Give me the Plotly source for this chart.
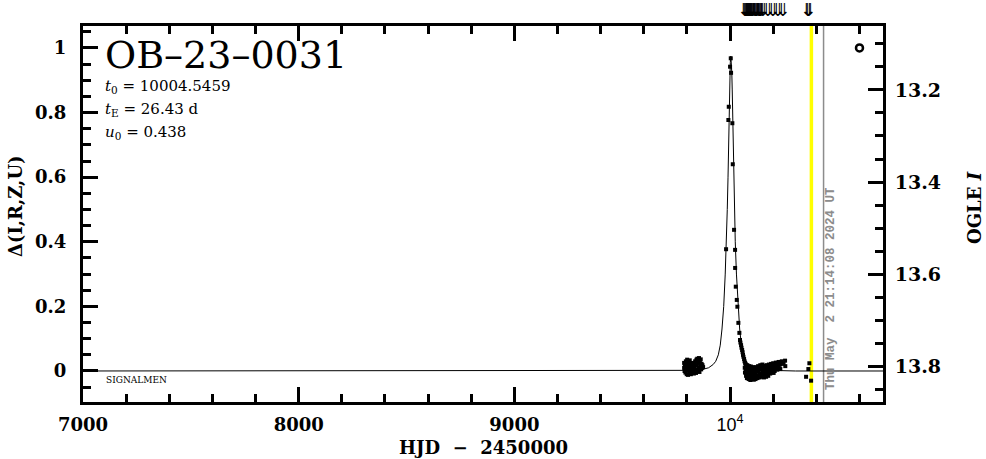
import plotly.graph_objects as go

# ---------------- data ----------------
# pre-event baseline (season before the event)
base_hjd = [9787, 9787, 9789, 9791, 9793, 9795, 9797, 9799, 9801, 9802, 9803, 9805, 9807, 9809,
            9811, 9813, 9815, 9816, 9818, 9820, 9822, 9824, 9826, 9828, 9830, 9832, 9834, 9836,
            9838, 9840, 9842, 9844, 9846, 9848, 9850, 9852, 9854, 9856, 9858, 9860, 9862, 9864,
            9866, 9868, 9870, 9872, 9875]
base_d = [0.025, 0.010, 0.000, 0.018, -0.005, 0.030, 0.012, -0.010, 0.035, 0.020, 0.003, -0.012,
          0.028, 0.010, -0.008, 0.033, 0.018, 0.000, -0.010, 0.022, 0.008, -0.005, 0.015, 0.025,
          0.000, -0.008, 0.012, 0.020, 0.030, 0.005, -0.006, 0.035, 0.018, 0.038, 0.002, 0.025,
          0.010, 0.040, -0.003, 0.030, 0.015, 0.036, 0.005, 0.022, 0.010, 0.018, 0.012]

# points on the peak
peak_hjd = [9981.5, 9992.1, 9993.9, 10000.0, 10003.2, 10004.6, 10010.6, 10012.5, 10018.5,
            10023.2, 10023.5, 10026.4, 10031.1, 10033.8, 10038.5, 10043.1]
peak_d = [0.377, 0.777, 0.818, 0.942, 0.968, 0.923, 0.767, 0.640, 0.437, 0.375, 0.319, 0.261,
          0.220, 0.199, 0.149, 0.118]

# decline and post-event baseline
tail_hjd = [10046, 10048, 10051, 10053, 10056, 10058, 10060, 10062, 10065, 10067, 10070,
            10068, 10069, 10072, 10073, 10074, 10076, 10077, 10078, 10080, 10081, 10082,
            10084, 10085, 10086, 10088, 10089, 10090, 10092, 10093, 10094, 10096, 10097, 10098,
            10100, 10101, 10102, 10104, 10105, 10106, 10108, 10109, 10110, 10112, 10113, 10114,
            10116, 10117, 10118, 10120, 10121, 10122, 10125, 10126, 10127, 10130, 10131, 10132,
            10135, 10136, 10137, 10140, 10141, 10142, 10145, 10146, 10147, 10150, 10151, 10152,
            10155, 10156, 10157, 10160, 10161, 10162, 10165, 10166, 10167, 10170, 10171,
            10175, 10176, 10177, 10180, 10181, 10185, 10186, 10190, 10191, 10195, 10196,
            10200, 10201, 10202, 10206, 10207, 10212, 10213, 10218, 10219, 10225, 10226,
            10232, 10233, 10240, 10248, 10255, 10256]
tail_d = [0.096, 0.088, 0.080, 0.072, 0.065, 0.058, 0.050, 0.044, 0.037, 0.030, 0.025,
          0.010, -0.005, 0.020, 0.000, -0.015, 0.012, -0.010, -0.022, 0.018, 0.002, -0.018,
          0.008, -0.012, -0.025, 0.015, -0.004, -0.020, 0.010, -0.015, -0.028, 0.014, 0.000, -0.018,
          0.006, -0.010, -0.024, 0.012, -0.005, -0.020, 0.003, -0.016, -0.027, 0.010, -0.006, -0.020,
          0.005, -0.012, -0.025, 0.012, -0.002, -0.018, 0.008, -0.014, -0.022, 0.015, 0.000, -0.015,
          0.006, -0.010, -0.020, 0.018, 0.004, -0.012, 0.010, -0.008, -0.018, 0.020, 0.002, -0.014,
          0.012, -0.006, -0.020, 0.016, 0.000, -0.012, 0.008, -0.010, -0.018, 0.018, 0.004,
          0.012, -0.006, -0.015, 0.020, 0.000, 0.010, -0.008, 0.022, 0.005, 0.014, -0.004,
          0.024, 0.008, -0.006, 0.016, 0.000, 0.026, 0.010, 0.018, 0.004, 0.028, 0.012,
          0.020, 0.006, 0.030, 0.022, 0.032, 0.015]

# newest points (current season)
late_hjd = [10352.4, 10363.0, 10367.7, 10375.6]
late_d = [-0.018, 0.006, 0.024, -0.030]

# open-circle marker at the top right
ref_hjd = [10600]
ref_d = [1.0]

# model curve (t0 = 10004.5459, tE = 26.43 d, u0 = 0.438)
model_hjd = [7000, 9703.5, 9823.5, 9873.5, 9900.5, 9921.5, 9933.5, 9945.5, 9954.5, 9962.5, 9970.5,
             9977.5, 9983.0, 9987.0, 9990.5, 9993.0, 9995.0, 9997.0, 9998.9, 10001.0, 10003.5,
             10006.0, 10008.1, 10010.0, 10012.0, 10014.0, 10016.5, 10020.0, 10024.0, 10029.5,
             10036.5, 10044.5, 10052.5, 10061.5, 10073.5, 10085.5, 10106.5, 10133.5, 10183.5,
             10303.5, 10709]
model_d = [0.0, 0.0, 0.002, 0.005, 0.01, 0.02, 0.03, 0.05, 0.08, 0.13, 0.20,
           0.30, 0.40, 0.50, 0.60, 0.70, 0.80, 0.87, 0.922, 0.955, 0.975,
           0.955, 0.922, 0.87, 0.80, 0.70, 0.60, 0.50, 0.40, 0.30,
           0.20, 0.13, 0.08, 0.05, 0.03, 0.02, 0.01, 0.005, 0.002,
           0.0, 0.0]

# arrows above the frame
arrow_hjd = [10068, 10072, 10076, 10080, 10085, 10090, 10095, 10100, 10106, 10112, 10118,
             10124, 10130, 10136, 10142, 10150, 10175, 10198, 10222, 10245, 10358, 10364]

# vertical markers
yellow_hjd = 10377
now_hjd = 10433.4

# axes
x_ticks = [7000, 8000, 9000, 10000]
x_ticktext = ['7000', '8000', '9000',
              '<span style="font-family:Liberation Sans;font-weight:normal">10<sup>4</sup></span>']
y_ticks = [0, 0.2, 0.4, 0.6, 0.8, 1.0]
y_ticktext = ['0', '0.2', '0.4', '0.6', '0.8', '1']
mag_ticks = [13.2, 13.4, 13.6, 13.8]
mag_ticktext = ['13.2', '13.4', '13.6', '13.8']

# ---------------- figure ----------------
SERIF = 'DejaVu Serif'
tickfont = dict(family=SERIF, size=18, color='black', weight='bold')

fig = go.Figure()
fig.add_trace(go.Scatter(x=model_hjd, y=model_d, mode='lines',
                         line=dict(color='black', width=1), hoverinfo='skip'))
obs_hjd = base_hjd + peak_hjd + tail_hjd + late_hjd
obs_d = base_d + peak_d + tail_d + late_d
fig.add_trace(go.Scatter(x=obs_hjd, y=obs_d, mode='markers',
                         marker=dict(symbol='square', size=4, color='black', line=dict(width=0))))
fig.add_trace(go.Scatter(x=ref_hjd, y=ref_d, mode='markers',
                         marker=dict(symbol='circle-open', size=7, color='black',
                                     line=dict(width=2.5, color='black'))))
fig.add_trace(go.Scatter(x=[None], y=[None], yaxis='y2', showlegend=False))

fig.add_shape(type='line', xref='x', yref='paper', x0=yellow_hjd, x1=yellow_hjd, y0=0, y1=1,
              line=dict(color='#ffff00', width=3.5), layer='below')
fig.add_shape(type='line', xref='x', yref='paper', x0=now_hjd, x1=now_hjd, y0=0, y1=1,
              line=dict(color='#8c8c8c', width=1.5), layer='below')

minor_x = [7000 + 200 * i for i in range(19)]
minor_y = [round(-0.05 + 0.05 * i, 2) for i in range(23)]
minor_m = [round(13.05 + 0.05 * i, 2) for i in range(17)]

fig.update_layout(
    width=986, height=459,
    margin=dict(l=83, r=103, t=26, b=57),
    paper_bgcolor='white', plot_bgcolor='white',
    showlegend=False,
    xaxis=dict(range=[7000, 10709], tickmode='array', tickvals=x_ticks, ticktext=x_ticktext,
               ticks='inside', ticklen=15, tickwidth=2.5, tickcolor='black',
               minor=dict(tickmode='array', tickvals=minor_x, ticks='inside', ticklen=8,
                          tickwidth=2.5, tickcolor='black'),
               showline=True, linewidth=3, linecolor='black', mirror='ticks',
               showgrid=False, zeroline=False, tickfont=tickfont, ticklabelstandoff=4),
    yaxis=dict(range=[-0.096, 1.068], tickmode='array', tickvals=y_ticks, ticktext=y_ticktext,
               ticks='inside', ticklen=15, tickwidth=2.5, tickcolor='black',
               minor=dict(tickmode='array', tickvals=minor_y, ticks='inside', ticklen=8,
                          tickwidth=2.5, tickcolor='black'),
               showline=True, linewidth=3, linecolor='black',
               showgrid=False, zeroline=False, tickfont=tickfont, ticklabelstandoff=10),
    yaxis2=dict(range=[13.878, 13.061], overlaying='y', side='right', tickmode='array',
                tickvals=mag_ticks, ticktext=mag_ticktext,
                ticks='inside', ticklen=15, tickwidth=2.5, tickcolor='black',
                minor=dict(tickmode='array', tickvals=minor_m, ticks='inside', ticklen=8,
                           tickwidth=2.5, tickcolor='black'),
                showline=True, linewidth=3, linecolor='black',
                showgrid=False, zeroline=False,
                tickfont=dict(family=SERIF, size=19, color='black', weight='bold'),
                ticklabelstandoff=5),
)

ann = []
for ah in arrow_hjd:
    ann.append(dict(text='⇓', x=ah, y=1.043, xref='x', yref='paper', xanchor='center',
                    yanchor='middle', showarrow=False,
                    font=dict(family='DejaVu Sans', size=18, color='black')))
ann.append(dict(text='OB–23–0031', x=0.025, y=0.923, xref='paper', yref='paper',
                xanchor='left', yanchor='middle', showarrow=False,
                font=dict(family=SERIF, size=38, color='black')))
for txt, yy in [('<i>t</i><sub>0</sub> = 10004.5459', 0.838),
                ('<i>t</i><sub>E</sub> = 26.43 d', 0.777),
                ('<i>u</i><sub>0</sub> = 0.438', 0.718)]:
    ann.append(dict(text=txt, x=0.025, y=yy, xref='paper', yref='paper', xanchor='left',
                    yanchor='middle', showarrow=False,
                    font=dict(family=SERIF, size=15, color='black')))
ann.append(dict(text='SIGNALMEN', x=0.026, y=0.0585, xref='paper', yref='paper',
                xanchor='left', yanchor='middle', showarrow=False,
                font=dict(family=SERIF, size=9, color='black')))
ann.append(dict(text='Thu May\u00a0\u00a02 21:14:08 2024 UT', x=0.935, y=0.3005,
                xref='paper', yref='paper', xanchor='center', yanchor='middle',
                textangle=-90, showarrow=False,
                font=dict(family='Liberation Mono', size=12.5, color='#8c8c8c', weight='bold')))
ann.append(dict(text='Δ(I,R,Z,U)', x=-0.085, y=0.521, xref='paper', yref='paper',
                xanchor='center', yanchor='middle', textangle=-90, showarrow=False,
                font=dict(family=SERIF, size=18, color='black', weight='bold')))
ann.append(dict(text='OGLE <i>I</i>', x=1.115, y=0.516, xref='paper', yref='paper',
                xanchor='center', yanchor='middle', textangle=-90, showarrow=False,
                font=dict(family=SERIF, size=18, color='black', weight='bold')))
ann.append(dict(text='HJD\u00a0\u00a0−\u00a0\u00a02450000', x=0.5, y=-0.1197, xref='paper', yref='paper',
                xanchor='center', yanchor='middle', showarrow=False,
                font=dict(family=SERIF, size=18, color='black', weight='bold')))
fig.update_layout(annotations=ann)

fig.write_html('out.html', config={'displayModeBar': False},
               post_script="document.body.style.margin='0';")
